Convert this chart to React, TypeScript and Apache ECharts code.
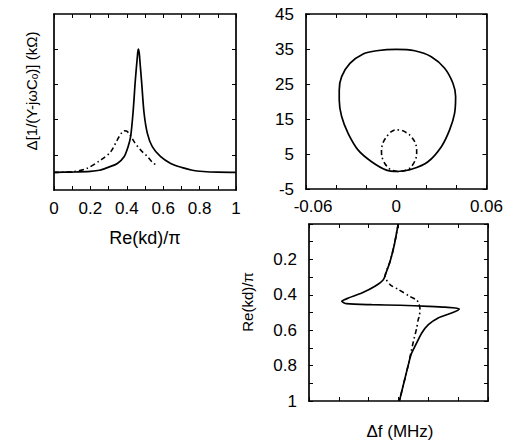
import React, { useEffect, useRef } from "react";
import * as echarts from "echarts";

// ---------- Panel A: Δ[1/(Y-jωCo)] vs Re(kd)/π ----------
const aXLabels = [0, 0.2, 0.4, 0.6, 0.8, 1];
const aXTicks = [0, 0.1, 0.2, 0.3, 0.4, 0.5, 0.6, 0.7, 0.8, 0.9, 1];
const aYTicks = [2, 4, 6, 8];
const aSolid: number[][] = [
  [0, 1.0], [0.1, 1.02], [0.2, 1.06], [0.25, 1.12], [0.3, 1.3], [0.348, 1.51],
  [0.385, 1.89], [0.407, 2.46], [0.421, 3.03], [0.434, 4.36], [0.447, 6.25],
  [0.458, 7.57], [0.463, 8.0], [0.468, 7.8], [0.473, 7.2], [0.482, 6.06],
  [0.495, 4.36], [0.513, 3.22], [0.54, 2.46], [0.586, 1.89], [0.641, 1.51],
  [0.705, 1.27], [0.76, 1.12], [0.82, 1.05], [0.9, 1.01], [1, 1.0],
];
const aDash: number[][] = [
  [0, 1.0], [0.1, 1.04], [0.18, 1.22], [0.256, 1.7], [0.31, 2.15], [0.348, 2.85],
  [0.372, 3.25], [0.385, 3.37], [0.398, 3.35], [0.412, 3.22], [0.44, 2.75],
  [0.476, 2.27], [0.513, 1.9], [0.545, 1.53], [0.565, 1.42],
];

// ---------- Panel B: loop ----------
const bXLabels = [-0.06, 0, 0.06];
const bXTicks = [-0.06, -0.04, -0.02, 0, 0.02, 0.04, 0.06];
const bYTicks = [-5, 5, 15, 25, 35, 45];
const bSolid: number[][] = [
  [0.001, 0], [-0.0065, 0.4], [-0.0164, 2.8], [-0.0253, 6.1], [-0.032, 10.9],
  [-0.0363, 15.7], [-0.0379, 20.4], [-0.0379, 23.3], [-0.0363, 27.1],
  [-0.0308, 30.9], [-0.022, 33.6], [-0.0131, 34.5], [0, 34.9], [0.0123, 34.5],
  [0.0233, 32.8], [0.0322, 29.5], [0.0377, 25.2], [0.0395, 21.4], [0.0388, 16.6],
  [0.0355, 11.9], [0.03, 7.1], [0.0211, 2.8], [0.0101, 0.63], [0.001, 0],
];
const bDash: number[][] = [
  [0.001, 0], [-0.004, 0.6], [-0.0076, 2.3], [-0.0095, 4.2], [-0.0098, 6.1],
  [-0.0088, 8.2], [-0.0065, 9.9], [-0.0035, 11.3], [-0.0005, 11.9], [0.004, 11.7],
  [0.009, 10.4], [0.0122, 8.6], [0.0134, 7.1], [0.0136, 5.6], [0.0134, 4.2],
  [0.0101, 1.4], [0.006, 0.3], [0.001, 0],
];

// ---------- Panel C: Δf vs Re(kd)/π ----------
const cXTicks = [-3, -2, -1, 0, 1, 2, 3];
const cYLabels = [0.2, 0.4, 0.6, 0.8, 1];
const cYTicks = [0, 0.1, 0.2, 0.3, 0.4, 0.5, 0.6, 0.7, 0.8, 0.9, 1];
const cSolid: number[][] = [
  [-0.01, 0], [-0.14, 0.117], [-0.28, 0.21], [-0.42, 0.277], [-0.51, 0.315],
  [-0.79, 0.352], [-1.23, 0.39], [-1.68, 0.418], [-1.9, 0.437], [-1.74, 0.45],
  [-0.9, 0.456], [0.05, 0.459], [1.0, 0.465], [1.56, 0.47], [2.04, 0.48],
  [1.78, 0.503], [1.33, 0.531], [1.0, 0.569], [0.78, 0.616], [0.58, 0.682],
  [0.42, 0.738], [0.33, 0.795], [0.22, 0.87], [0.03, 1.0],
];
const cDash: number[][] = [
  [-0.01, 0], [-0.14, 0.117], [-0.28, 0.21], [-0.45, 0.296], [-0.28, 0.343],
  [0.0, 0.37], [0.39, 0.41], [0.61, 0.43], [0.68, 0.45], [0.72, 0.48],
  [0.7, 0.52], [0.66, 0.54], [0.61, 0.588], [0.5, 0.663], [0.4, 0.74],
  [0.33, 0.795], [0.22, 0.87], [0.03, 1.0],
];

const FONT = "'Liberation Sans', Arial, sans-serif";
const INK = "#000";

function frameAxis(extra: any) {
  return {
    type: "value",
    axisLine: { show: true, onZero: false, lineStyle: { color: INK, width: 1.7 } },
    splitLine: { show: false },
    ...extra,
  };
}

function ticks(values: number[], show = true) {
  return { show, inside: true, length: 4, customValues: values, lineStyle: { color: INK, width: 1 } };
}

export default function App() {
  const ref = useRef<HTMLDivElement>(null);
  useEffect(() => {
    if (!ref.current) return;
    const chart = echarts.init(ref.current, undefined, { renderer: "svg" });
    const solid = { color: INK, width: 1.7, type: "solid" };
    const dash = { color: INK, width: 1.6, type: [5, 3, 1.5, 3] };
    const lbl = { fontFamily: FONT, fontSize: 17, color: INK };
    const option: any = {
      animation: false,
      backgroundColor: "#fff",
      grid: [
        { left: 54, top: 14, width: 182, height: 176 },
        { left: 306, top: 14, width: 181, height: 175 },
        { left: 309, top: 224, width: 179, height: 177 },
      ],
      xAxis: [
        frameAxis({ gridIndex: 0, position: "bottom", min: 0, max: 1, axisTick: ticks(aXTicks),
          axisLabel: { ...lbl, margin: 10, customValues: aXLabels, formatter: (v: number) => String(v) } }),
        frameAxis({ gridIndex: 0, position: "top", min: 0, max: 1, axisTick: ticks(aXTicks), axisLabel: { show: false } }),
        frameAxis({ gridIndex: 1, position: "bottom", min: -0.06, max: 0.06, axisTick: ticks(bXTicks),
          axisLabel: { ...lbl, margin: 9, customValues: bXLabels,
            formatter: (v: number) => (v === 0 ? "0" : v < 0 ? "{m|" + v.toFixed(2) + "}" : v.toFixed(2)),
            rich: { m: { ...lbl, padding: [0, 0, 0, 14] } } } }),
        frameAxis({ gridIndex: 1, position: "top", min: -0.06, max: 0.06, axisTick: ticks(bXTicks), axisLabel: { show: false } }),
        frameAxis({ gridIndex: 2, position: "bottom", min: -3, max: 3, axisTick: ticks(cXTicks), axisLabel: { show: false } }),
        frameAxis({ gridIndex: 2, position: "top", min: -3, max: 3, axisTick: ticks(cXTicks), axisLabel: { show: false } }),
      ],
      yAxis: [
        frameAxis({ gridIndex: 0, position: "left", min: 0, max: 10, axisTick: ticks(aYTicks), axisLabel: { show: false } }),
        frameAxis({ gridIndex: 0, position: "right", min: 0, max: 10, axisTick: ticks(aYTicks), axisLabel: { show: false } }),
        frameAxis({ gridIndex: 1, position: "left", min: -5, max: 45, axisTick: ticks(bYTicks),
          axisLabel: { ...lbl, margin: 12, padding: [5, 0, 0, 0], customValues: bYTicks, formatter: (v: number) => String(v) } }),
        frameAxis({ gridIndex: 1, position: "right", min: -5, max: 45, axisTick: ticks(bYTicks), axisLabel: { show: false } }),
        frameAxis({ gridIndex: 2, position: "left", min: 0, max: 1, inverse: true, axisTick: ticks(cYTicks),
          axisLabel: { ...lbl, margin: 12, padding: [5, 0, 0, 0], customValues: cYLabels, formatter: (v: number) => String(v) } }),
        frameAxis({ gridIndex: 2, position: "right", min: 0, max: 1, inverse: true, axisTick: ticks(cYTicks), axisLabel: { show: false } }),
      ],
      series: [
        { type: "line", xAxisIndex: 0, yAxisIndex: 0, data: aSolid, showSymbol: false, smooth: 0.3, lineStyle: solid },
        { type: "line", xAxisIndex: 0, yAxisIndex: 0, data: aDash, showSymbol: false, smooth: 0.3, lineStyle: dash },
        { type: "line", xAxisIndex: 2, yAxisIndex: 2, data: bSolid, showSymbol: false, smooth: 0.3, lineStyle: solid },
        { type: "line", xAxisIndex: 2, yAxisIndex: 2, data: bDash, showSymbol: false, smooth: 0.3, lineStyle: dash },
        { type: "line", xAxisIndex: 4, yAxisIndex: 4, data: cSolid, showSymbol: false, smooth: 0.25, lineStyle: solid },
        { type: "line", xAxisIndex: 4, yAxisIndex: 4, data: cDash, showSymbol: false, smooth: 0.25, lineStyle: dash },
      ],
      graphic: [
        { type: "text", x: 31, y: 91, rotation: Math.PI / 2,
          style: { text: "Δ[1/(Y-jωC{s|o})] (kΩ)", fill: INK, fontFamily: FONT, fontSize: 15, align: "center", verticalAlign: "middle",
            rich: { s: { fontFamily: FONT, fontSize: 10, fill: INK, padding: [7, 0, 0, 0] } } } },
        { type: "text", x: 145, y: 238, style: { text: "Re(kd)/π", fill: INK, fontFamily: FONT, fontSize: 18, align: "center", verticalAlign: "middle" } },
        { type: "text", x: 247, y: 302, rotation: Math.PI / 2,
          style: { text: "Re(kd)/π", fill: INK, fontFamily: FONT, fontSize: 15, align: "center", verticalAlign: "middle" } },
        { type: "text", x: 400, y: 431, style: { text: "Δf (MHz)", fill: INK, fontFamily: FONT, fontSize: 17, align: "center", verticalAlign: "middle" } },
      ],
    };
    chart.setOption(option);
    return () => chart.dispose();
  }, []);
  return <div ref={ref} style={{ position: "fixed", left: 0, top: 0, width: 506, height: 443, background: "#fff" }} />;
}
